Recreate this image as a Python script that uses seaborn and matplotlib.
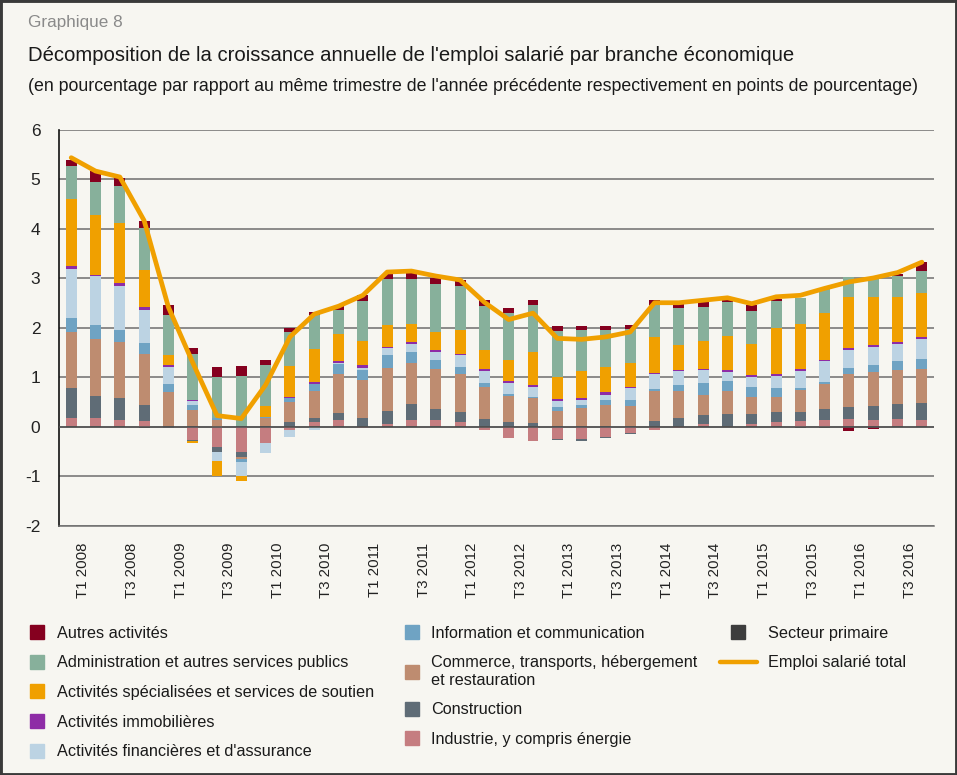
import numpy as np
import pandas as pd
import matplotlib
matplotlib.use("Agg")
import matplotlib.pyplot as plt
import seaborn as sns
from matplotlib.lines import Line2D
from matplotlib.patches import Rectangle

# quarterly contributions (percentage points), T1 2008 .. T4 2016
primaire = [0.03, 0.03, 0.03, -0.02, 0.03, 0.01, 0.0, 0.01, 0.02, 0.03, 0.03, 0.03,
            0.03, 0.03, 0.03, 0.03, 0.03, 0.02, 0.02, 0.02, 0.01, 0.03, 0.03, 0.03,
            0.02, 0.02, 0.02, 0.03, 0.02, 0.02, -0.02, -0.03, 0.02, 0.02, 0.02, 0.02]
industrie = [0.15, 0.15, 0.12, 0.13, 0.0, -0.26, -0.40, -0.50, -0.32, -0.07, 0.07, 0.12,
             -0.02, 0.04, 0.12, 0.12, 0.07, -0.07, -0.22, -0.29, -0.25, -0.25, -0.20, -0.13,
             -0.07, -0.02, 0.04, 0.0, 0.05, 0.09, 0.13, 0.15, 0.15, 0.13, 0.15, 0.13]
construction = [0.61, 0.45, 0.44, 0.32, -0.03, -0.03, -0.11, -0.11, 0.0, 0.08, 0.08, 0.13,
                0.15, 0.25, 0.31, 0.22, 0.20, 0.14, 0.08, 0.07, -0.02, -0.03, -0.03, -0.02,
                0.11, 0.16, 0.18, 0.23, 0.19, 0.19, 0.17, 0.21, 0.23, 0.27, 0.29, 0.33]
commerce = [1.12, 1.15, 1.12, 1.03, 0.67, 0.34, 0.15, -0.03, 0.16, 0.39, 0.54, 0.79,
            0.76, 0.88, 0.84, 0.81, 0.78, 0.65, 0.52, 0.49, 0.32, 0.36, 0.41, 0.39,
            0.59, 0.55, 0.41, 0.46, 0.34, 0.30, 0.44, 0.50, 0.68, 0.69, 0.70, 0.70]
information = [0.30, 0.28, 0.25, 0.22, 0.16, 0.09, 0.03, -0.06, 0.03, 0.08, 0.14, 0.20,
               0.21, 0.25, 0.21, 0.17, 0.13, 0.07, 0.05, 0.03, 0.07, 0.05, 0.10, 0.13,
               0.05, 0.11, 0.23, 0.20, 0.21, 0.19, 0.05, 0.04, 0.11, 0.15, 0.17, 0.20]
finance = [0.99, 0.98, 0.89, 0.66, 0.35, 0.08, -0.17, -0.29, -0.20, -0.13, -0.07, 0.03,
           0.05, 0.15, 0.17, 0.17, 0.25, 0.26, 0.21, 0.19, 0.12, 0.11, 0.11, 0.23,
           0.31, 0.30, 0.27, 0.19, 0.20, 0.25, 0.35, 0.43, 0.37, 0.35, 0.34, 0.40]
immobilier = [0.05, 0.03, 0.06, 0.07, 0.05, 0.03, 0.0, 0.0, 0.0, 0.02, 0.04, 0.03,
              0.06, 0.02, 0.03, 0.03, 0.02, 0.04, 0.05, 0.05, 0.04, 0.04, 0.05, 0.03,
              0.02, 0.01, 0.03, 0.04, 0.04, 0.04, 0.04, 0.02, 0.03, 0.04, 0.05, 0.03]
specialisees = [1.36, 1.22, 1.22, 0.75, 0.20, -0.04, -0.32, -0.10, 0.22, 0.64, 0.68, 0.55,
                0.48, 0.45, 0.37, 0.36, 0.47, 0.37, 0.43, 0.66, 0.44, 0.54, 0.51, 0.48,
                0.72, 0.51, 0.56, 0.68, 0.63, 0.91, 0.91, 0.96, 1.04, 0.98, 0.90, 0.90]
administration = [0.66, 0.65, 0.74, 0.83, 0.81, 0.92, 0.83, 1.03, 0.83, 0.68, 0.68, 0.49,
                  0.80, 0.91, 0.90, 0.98, 0.90, 0.90, 0.95, 0.96, 0.94, 0.83, 0.74, 0.68,
                  0.64, 0.74, 0.69, 0.70, 0.66, 0.56, 0.52, 0.48, 0.39, 0.37, 0.42, 0.45]
autres = [0.13, 0.23, 0.16, 0.16, 0.20, 0.13, 0.20, 0.20, 0.09, 0.07, 0.06, 0.07,
          0.13, 0.12, 0.13, 0.11, 0.11, 0.11, 0.09, 0.09, 0.09, 0.07, 0.09, 0.09,
          0.10, 0.09, 0.09, 0.04, 0.13, 0.03, 0.0, 0.0, -0.09, -0.05, 0.05, 0.17]
total = [5.44, 5.17, 5.05, 4.17, 2.42, 1.30, 0.23, 0.17, 0.85, 1.82, 2.28, 2.44,
         2.66, 3.13, 3.15, 3.05, 2.97, 2.52, 2.17, 2.30, 1.79, 1.77, 1.82, 1.92,
         2.51, 2.51, 2.56, 2.61, 2.49, 2.63, 2.66, 2.80, 2.93, 3.01, 3.12, 3.33]

tick_labels = ["T1 2008", "T3 2008", "T1 2009", "T3 2009", "T1 2010", "T3 2010",
               "T1 2011", "T3 2011", "T1 2012", "T3 2012", "T1 2013", "T3 2013",
               "T1 2014", "T3 2014", "T1 2015", "T3 2015", "T1 2016", "T3 2016"]

# stacking order from the zero line outwards
stack = [
    ("Secteur primaire", primaire, "#3d3d3d"),
    ("Industrie, y compris énergie", industrie, "#c57d80"),
    ("Construction", construction, "#5f6c76"),
    ("Commerce, transports, hébergement\net restauration", commerce, "#be8c70"),
    ("Information et communication", information, "#6fa3c3"),
    ("Activités financières et d'assurance", finance, "#bcd3e3"),
    ("Activités immobilières", immobilier, "#8e2ca6"),
    ("Activités spécialisées et services de soutien", specialisees, "#f0a000"),
    ("Administration et autres services publics", administration, "#87b09b"),
    ("Autres activités", autres, "#85001f"),
]
colors = {name: c for name, _, c in stack}
line_color = "#f0a000"
bg = "#f7f6f1"

sns.set_style("white")
plt.rcParams["font.family"] = ["Liberation Sans", "DejaVu Sans"]
plt.rcParams["axes.unicode_minus"] = False

fig = plt.figure(figsize=(9.57, 7.75), dpi=100, facecolor=bg)
ax = fig.add_axes([0.0617, 0.3213, 0.9143, 0.5110])
ax.set_facecolor(bg)

n = len(total)
pos_base = np.zeros(n)
neg_base = np.zeros(n)
for name, vals, col in stack:
    v = np.array(vals)
    bottom = np.where(v >= 0, pos_base, neg_base)
    df = pd.DataFrame({"q": np.arange(n), "v": v})
    sns.barplot(data=df, x="q", y="v", bottom=bottom, color=col, width=0.45,
                saturation=1, errorbar=None, ax=ax, zorder=2, linewidth=0)
    pos_base += np.clip(v, 0, None)
    neg_base += np.clip(v, None, 0)

sns.lineplot(x=np.arange(n), y=total, color=line_color, linewidth=3.4, ax=ax,
             zorder=5, solid_joinstyle="round")

ax.axhline(0, color="#555555", lw=1.2, zorder=3)

ax.set_xlim(-0.5, n - 0.5)
ax.set_ylim(-2, 6)
ax.set_yticks(range(-2, 7))
ax.set_yticklabels([str(t) for t in range(-2, 7)], fontsize=12.5, color="#222222")
ax.yaxis.grid(True, color="#6e6e6e", lw=1.1)
ax.set_axisbelow(True)

xt = np.arange(-0.5, n, 1.0)
xl = []
for p in xt:
    k = p - 0.5
    if k >= 0 and int(k) % 2 == 0:
        xl.append(tick_labels[int(k) // 2])
    else:
        xl.append("")
ax.set_xticks(xt)
ax.set_xticklabels(xl, rotation=90, fontsize=10.8, color="#222222")
ax.tick_params(axis="x", length=5, width=1, color="#6e6e6e", pad=7, direction="out")
ax.tick_params(axis="y", length=6, width=1.1, color="#6e6e6e", pad=7.5, direction="out")
ax.set_xlabel("")
ax.set_ylabel("")

for s in ["top", "right"]:
    ax.spines[s].set_visible(False)
ax.spines["left"].set_color("#111111")
ax.spines["left"].set_linewidth(1.2)
ax.spines["bottom"].set_color("#6e6e6e")
ax.spines["bottom"].set_linewidth(1.1)

# titles
fig.text(0.029, 0.9716, "Graphique 8", fontsize=12.3, color="#8a8a8a", va="center")
fig.text(0.029, 0.929, "Décomposition de la croissance annuelle de l'emploi salarié par branche économique",
         fontsize=14.6, color="#1a1a1a", va="center")
fig.text(0.029, 0.889, "(en pourcentage par rapport au même trimestre de l'année précédente "
         "respectivement en points de pourcentage)", fontsize=12.75, color="#1a1a1a", va="center")

# legend in three columns
def sq(c):
    return Line2D([], [], marker="s", markersize=10.5, linestyle="none",
                  markerfacecolor=c, markeredgecolor=c)

col1 = ["Autres activités", "Administration et autres services publics",
        "Activités spécialisées et services de soutien", "Activités immobilières",
        "Activités financières et d'assurance"]
col2 = ["Information et communication",
        "Commerce, transports, hébergement\net restauration",
        "Construction", "Industrie, y compris énergie"]
leg_kw = dict(loc="upper left", frameon=False, fontsize=11.7, borderpad=0,
              borderaxespad=0, labelspacing=0.9, labelcolor="#1a1a1a")

top_y = 0.1925
lg1 = fig.legend([sq(colors[k]) for k in col1], col1, bbox_to_anchor=(0.031, top_y),
                 handlelength=0.95, handletextpad=0.75, **leg_kw)
lg2 = fig.legend([sq(colors[k]) for k in col2], col2, bbox_to_anchor=(0.422, top_y),
                 handlelength=0.95, handletextpad=0.75, **leg_kw)
lg3 = fig.legend([sq(colors["Secteur primaire"]),
                  Line2D([], [], color=line_color, lw=3.2)],
                 ["Secteur primaire", "Emploi salarié total"],
                 bbox_to_anchor=(0.752, top_y), handlelength=2.3, handletextpad=0.65,
                 **leg_kw)

fig.patches.append(Rectangle((0, 0), 1, 1, transform=fig.transFigure, fill=False,
                             edgecolor="#3a3a3a", linewidth=3.5))

fig.savefig("out.png", dpi=100, facecolor=bg)
